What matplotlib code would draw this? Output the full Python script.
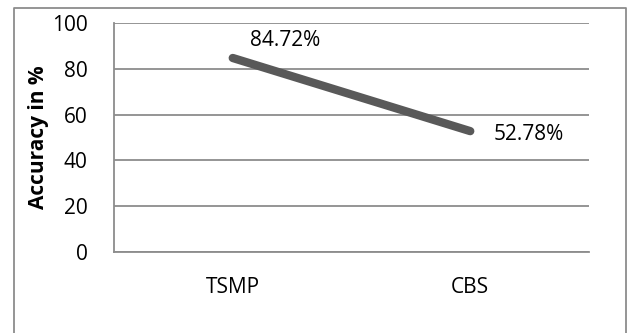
import matplotlib
matplotlib.use("Agg")
import matplotlib.pyplot as plt
from matplotlib.lines import Line2D

methods = ["TSMP", "CBS"]
accuracy = [84.72, 52.78]
y_ticks = [0, 20, 40, 60, 80, 100]

W, H = 629, 333
fig = plt.figure(figsize=(W / 100, H / 100), dpi=100)
plt.rcParams['font.family'] = ['Open Sans', 'DejaVu Sans']
FS = 15

# plot area in pixel units
left, right, top, bottom = 114, 589, 23, 252
ax = fig.add_axes([left / W, 1 - bottom / H, (right - left) / W, (bottom - top) / H])

x = list(range(len(methods)))
ax.plot(x, accuracy, color="#595959", lw=6.0, solid_capstyle="round", zorder=3)

ax.set_xlim(-0.5, len(methods) - 0.5)
ax.set_ylim(0, 100)
ax.set_yticks(y_ticks)
ax.set_yticklabels([str(v) for v in y_ticks], fontsize=FS)
ax.set_xticks(x)
ax.set_xticklabels(methods, fontsize=FS)
ax.tick_params(axis="both", length=0, colors="black")
ax.tick_params(axis="y", pad=19)
ax.tick_params(axis="x", pad=18)
ax.grid(axis="y", color="#8c8c8c", lw=1.3)
ax.set_axisbelow(True)
for side in ["top", "right"]:
    ax.spines[side].set_visible(False)
for side in ["left", "bottom"]:
    ax.spines[side].set_color("#8c8c8c")
    ax.spines[side].set_linewidth(1.3)

ax.set_ylabel("Accuracy in %", fontsize=FS, fontweight="bold", labelpad=2)

offsets = [(17, 17), (23, -3)]
for xi, v, off in zip(x, accuracy, offsets):
    ax.annotate(f"{v:.2f}%", (xi, v), xytext=off, textcoords="offset pixels",
                ha="left", va="center", fontsize=FS)

# outer chart border (left, top, right)
bx0, bx1, by0 = 13.5 / W, 625.5 / W, 1 - 7.5 / H
fig.add_artist(Line2D([bx0, bx0, bx1, bx1], [0, by0, by0, 0],
                      transform=fig.transFigure, color="#8c8c8c", lw=1.3))

fig.savefig("out.png", dpi=100, facecolor="white")
